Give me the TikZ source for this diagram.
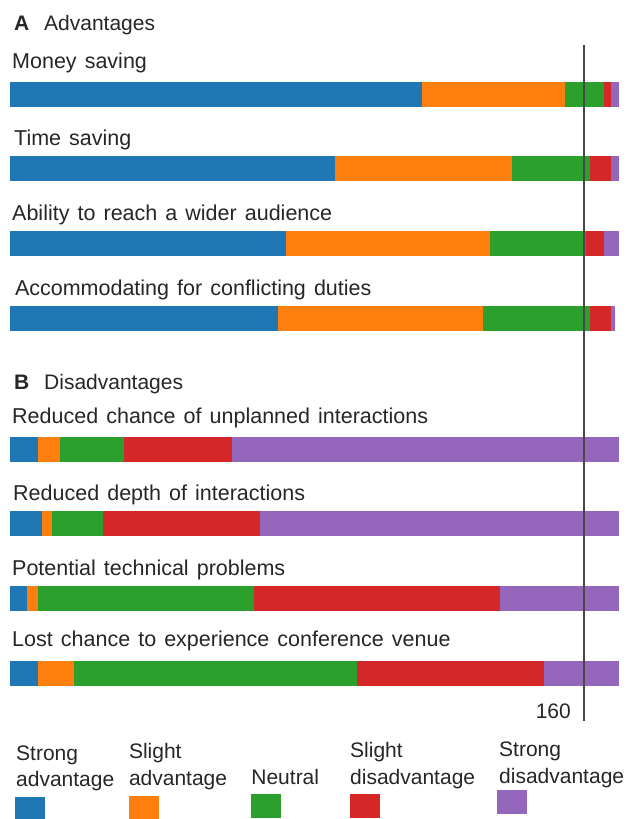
\documentclass[tikz,border=0pt]{standalone}
\usepackage{fontspec}
\setmainfont{Liberation Sans}
\newfontfamily\lblfont[WordSpace=1.35]{Liberation Sans}
\definecolor{cBlue}{HTML}{1F77B4}
\definecolor{cOrange}{HTML}{FF7F0E}
\definecolor{cGreen}{HTML}{2CA02C}
\definecolor{cRed}{HTML}{D62728}
\definecolor{cPurple}{HTML}{9467BD}
\newcommand{\stackbar}[6]{%
  \fill[cBlue] (10,#1) rectangle (#2,#1+25);
  \fill[cOrange] (#2,#1) rectangle (#3,#1+25);
  \fill[cGreen] (#3,#1) rectangle (#4,#1+25);
  \fill[cRed] (#4,#1) rectangle (#5,#1+25);
  \fill[cPurple] (#5,#1) rectangle (#6,#1+25);
}
\begin{document}
\begin{tikzpicture}[x=1pt,y=-1pt,
  lbl/.style={anchor=base west,inner sep=0pt,text=black!85,font=\lblfont\fontsize{21.5}{26.5}\selectfont},
  leg/.style={anchor=base west,inner sep=0pt,text=black!85,align=left,font=\fontsize{21}{26.7}\selectfont},
  sw/.style={minimum width=30pt,minimum height=24pt,inner sep=0pt,anchor=north west}]
\useasboundingbox (0,0) rectangle (629,819);
% headers
\node[lbl,font=\fontsize{21}{26}\selectfont\bfseries] (hA) at (14,30) {A};
\node[lbl,font=\fontsize{21}{26}\selectfont] (hAt) at (44,30) {Advantages};
\node[lbl,font=\fontsize{21}{26}\selectfont\bfseries] (hB) at (14,389.3) {B};
\node[lbl,font=\fontsize{21}{26}\selectfont] (hBt) at (44,389.3) {Disadvantages};
% labels
\node[lbl] (l1) at (12,68.3) {Money saving};
\node[lbl] (l2) at (14,145) {Time saving};
\node[lbl] (l3) at (12,220.7) {Ability to reach a wider audience};
\node[lbl] (l4) at (14.8,295.7) {Accommodating for conflicting duties};
\node[lbl] (l5) at (12,423.3) {Reduced chance of unplanned interactions};
\node[lbl] (l6) at (13,500) {Reduced depth of interactions};
\node[lbl] (l7) at (12,575) {Potential technical problems};
\node[lbl] (l8) at (12,646.7) {Lost chance to experience conference venue};
% bars
\stackbar{82}{421.6}{564.8}{604.4}{611.2}{619}
\stackbar{156.3}{335.2}{511.6}{590.4}{611.2}{619}
\stackbar{231}{285.6}{489.6}{586.4}{604.4}{619}
\stackbar{305.7}{278.4}{482.8}{590.4}{611.2}{615.2}
\stackbar{437}{38.4}{60}{124.4}{232}{619}
\stackbar{511.3}{42}{52.4}{103.2}{260.4}{619}
\stackbar{586}{27.2}{38.4}{253.6}{500.4}{619}
\stackbar{660.7}{38.4}{74.4}{356.8}{543.6}{619}
% reference line
\coordinate (vt) at (584,45);
\coordinate (vb) at (584,720.7);
\draw[black!72,line width=1.4pt] (vt) -- (vb);
\node[lbl,font=\fontsize{21}{26}\selectfont,anchor=base east] (t160) at (571,718.3) {160};
% legend
\node[leg] (g1) at (16,786.7) {Strong\\advantage};
\node[leg] (g2) at (128.8,785) {Slight\\advantage};
\node[leg] (g3) at (251.2,784) {Neutral};
\node[leg] (g4) at (350,784) {Slight\\disadvantage};
\node[leg] (g5) at (499,783) {Strong\\disadvantage};
\node[sw,fill=cBlue] (s1) at (14.8,796.7) {};
\node[sw,fill=cOrange] (s2) at (128.8,796) {};
\node[sw,fill=cGreen] (s3) at (251.2,793.3) {};
\node[sw,fill=cRed] (s4) at (350,793.3) {};
\node[sw,fill=cPurple] (s5) at (497.2,790) {};
\end{tikzpicture}
\end{document}
